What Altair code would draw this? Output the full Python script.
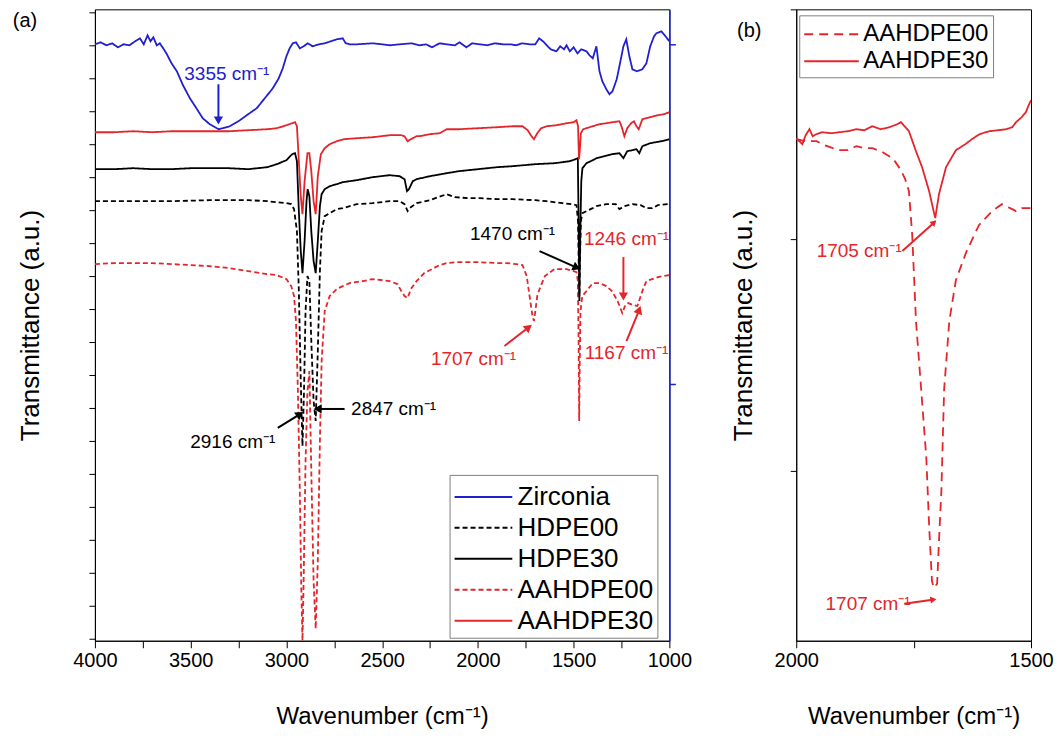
import altair as alt
import pandas as pd

FONT = "Liberation Sans"
BLUE = "#2020d0"
RED = "#e4252b"
BLACK = "#000000"

# ---------------- panel (a) data (wavenumber, transmittance a.u.) ----------------
zr_wn = [4000, 3970, 3940, 3910, 3880, 3850, 3820, 3790, 3765, 3745,
         3725, 3710, 3695, 3677, 3661, 3640, 3624, 3600, 3572, 3540,
         3504, 3470, 3437, 3400, 3363, 3353, 3332, 3296, 3243, 3200,
         3155, 3113, 3071, 3040, 3019, 3000, 2983, 2967, 2950, 2930,
         2910, 2889, 2863, 2830, 2800, 2737, 2706, 2690, 2670, 2633,
         2550, 2500, 2461, 2409, 2346, 2304, 2270, 2240, 2200, 2163,
         2120, 2096, 2060, 2030, 1991, 1950, 1910, 1870, 1830, 1800,
         1770, 1730, 1700, 1680, 1660, 1640, 1620, 1590, 1570, 1550,
         1537, 1520, 1500, 1480, 1460, 1433, 1417, 1400, 1381, 1365,
         1350, 1329, 1313, 1297, 1275, 1261, 1240, 1225, 1209, 1193,
         1170, 1141, 1120, 1100, 1080, 1068, 1042, 1020, 1000]
zr_t = [597, 599, 596, 598, 594, 597, 596, 600, 603, 597,
        606, 600, 604, 596, 598, 592, 587, 578, 570, 556,
        543, 533, 523, 517, 513, 512, 513, 515, 521, 527,
        533, 543, 553, 563, 573, 585, 593, 598, 599, 593,
        595, 598, 595, 597, 598, 602, 603, 598, 597, 597,
        598, 597, 596, 597, 598, 596, 597, 594, 598, 597,
        596, 599, 594, 598, 597, 596, 598, 597, 597, 596,
        598, 597, 597, 603, 600, 596, 592, 590, 595, 592,
        596, 590, 594, 588, 592, 590, 586, 583, 595, 570,
        560, 552, 547, 550, 562, 575, 595, 602, 585, 572,
        570, 572, 578, 595, 605, 608, 610, 605, 600]

rs_wn = [4000, 3900, 3800, 3700, 3600, 3500, 3400, 3300, 3200, 3100,
         3050, 3000, 2970, 2955, 2945, 2935, 2925, 2916, 2905, 2890,
         2880, 2870, 2858, 2847, 2836, 2820, 2800, 2774, 2737, 2700,
         2633, 2550, 2461, 2400, 2383, 2367, 2350, 2320, 2304, 2252,
         2200, 2163, 2100, 2000, 1900, 1820, 1767, 1740, 1720, 1707,
         1690, 1670, 1640, 1590, 1537, 1500, 1485, 1477, 1472, 1468,
         1462, 1450, 1433, 1400, 1365, 1329, 1297, 1261, 1250, 1235,
         1220, 1200, 1185, 1172, 1160, 1141, 1100, 1060, 1030, 1000]
rs_t = [509, 509, 510, 509, 510, 510, 510, 510, 511, 512,
        513, 516, 518, 519, 515, 480, 445, 427, 460, 488,
        488, 470, 440, 427, 465, 487, 493, 497, 500, 502,
        503, 504, 506, 506, 505, 500, 502, 505, 505, 507,
        508, 512, 512, 513, 514, 515, 515, 511, 505, 502,
        508, 513, 515, 516, 518, 519, 521, 515, 482, 490,
        508, 512, 513, 515, 517, 518, 519, 520, 515, 505,
        513, 518, 520, 515, 512, 522, 524, 526, 527, 529]

bs_wn = [4000, 3900, 3800, 3700, 3600, 3500, 3400, 3300, 3200, 3100,
         3050, 3000, 2970, 2955, 2945, 2935, 2925, 2916, 2905, 2895,
         2889, 2880, 2870, 2858, 2847, 2836, 2825, 2816, 2800, 2774,
         2737, 2706, 2633, 2550, 2461, 2409, 2383, 2370, 2360, 2340,
         2320, 2250, 2163, 2100, 2000, 1900, 1820, 1700, 1600, 1520,
         1490, 1478, 1474, 1470, 1466, 1460, 1454, 1433, 1400, 1381,
         1300, 1261, 1240, 1220, 1193, 1172, 1157, 1141, 1100, 1042,
         1000]
bs_t = [472, 472, 473, 472, 472, 473, 473, 473, 472, 474,
        477, 481, 487, 488, 480, 430, 390, 368, 400, 440,
        452, 445, 410, 380, 368, 400, 435, 447, 452, 455,
        457, 459, 461, 464, 466, 465, 462, 450, 452, 460,
        462, 465, 468, 470, 472, 474, 475, 477, 478, 480,
        482, 483, 420, 340, 400, 460, 473, 478, 481, 483,
        487, 488, 483, 490, 491, 492, 488, 495, 498, 500,
        502]

bd_wn = [4000, 3800, 3600, 3400, 3200, 3100, 3000, 2975, 2960, 2945,
         2935, 2925, 2916, 2908, 2900, 2890, 2880, 2870, 2858, 2847,
         2836, 2825, 2816, 2800, 2774, 2737, 2706, 2633, 2550, 2461,
         2409, 2383, 2367, 2350, 2320, 2250, 2163, 2120, 2050, 1991,
         1900, 1819, 1700, 1642, 1560, 1506, 1485, 1477, 1472, 1470,
         1467, 1462, 1454, 1433, 1400, 1381, 1329, 1280, 1261, 1235,
         1193, 1150, 1120, 1089, 1060, 1010, 1000]
bd_t = [440, 440, 440, 441, 441, 440, 438, 437, 432, 410,
        350, 260, 195, 250, 330, 365, 360, 300, 240, 220,
        290, 370, 410, 425, 428, 432, 433, 437, 438, 440,
        440, 437, 430, 434, 438, 441, 447, 444, 443, 443,
        442, 442, 441, 440, 438, 437, 436, 420, 360, 345,
        380, 420, 428, 430, 433, 435, 437, 437, 432, 435,
        437, 436, 433, 433, 436, 437, 437]

rd_wn = [4000, 3900, 3800, 3700, 3600, 3500, 3400, 3300, 3200, 3100,
         3050, 3000, 2975, 2960, 2950, 2940, 2930, 2922, 2916, 2910,
         2900, 2890, 2880, 2870, 2858, 2847, 2836, 2825, 2816, 2800,
         2774, 2737, 2706, 2670, 2600, 2550, 2461, 2420, 2400, 2383,
         2367, 2350, 2320, 2280, 2200, 2163, 2100, 2000, 1900, 1850,
         1800, 1767, 1745, 1730, 1715, 1707, 1700, 1690, 1678, 1650,
         1600, 1537, 1500, 1485, 1478, 1474, 1471, 1468, 1464, 1455,
         1433, 1400, 1365, 1329, 1300, 1270, 1246, 1230, 1215, 1190,
         1167, 1141, 1120, 1060, 1000]
rd_t = [377, 378, 378, 378, 377, 376, 375, 373, 370, 367,
        366, 362, 355, 345, 320, 250, 150, 50, 0, 60,
        180, 250, 270, 170, 60, 12, 80, 200, 280, 330,
        345, 352, 355, 358, 360, 362, 360, 357, 350, 345,
        343, 352, 360, 368, 376, 378, 379, 379, 378, 378,
        377, 376, 365, 345, 325, 320, 330, 345, 352, 365,
        372, 372, 370, 369, 360, 300, 220, 280, 330, 345,
        350, 358, 358, 355, 350, 340, 328, 336, 338, 336,
        335, 350, 360, 364, 366]

# ---------------- panel (b) data ----------------
rsb_wn = [2000, 1987, 1980, 1972, 1965, 1957, 1945, 1925, 1909, 1890,
          1872, 1855, 1838, 1820, 1802, 1785, 1777, 1760, 1745, 1732,
          1717, 1704, 1696, 1681, 1660, 1640, 1626, 1610, 1589, 1570,
          1553, 1540, 1532, 1520, 1511, 1505, 1500]
rsb_t = [503, 497, 506, 512, 505, 507, 509, 508, 509, 510,
         512, 511, 515, 512, 514, 517, 519, 510, 490, 474,
         450, 423, 447, 474, 491, 497, 502, 507, 510, 511,
         512, 514, 519, 524, 529, 536, 541]
rdb_wn = [2000, 1980, 1957, 1940, 1909, 1890, 1872, 1855, 1838, 1820,
          1802, 1790, 1777, 1768, 1760, 1753, 1745, 1734, 1723, 1717,
          1711, 1707, 1700, 1696, 1691, 1685, 1674, 1660, 1638, 1611,
          1583, 1562, 1540, 1532, 1519, 1500]
rdb_t = [502, 500, 500, 496, 491, 491, 495, 493, 493, 490,
         485, 480, 471, 462, 450, 406, 320, 252, 183, 115,
         60, 53, 57, 100, 149, 252, 320, 361, 389, 416,
         430, 437, 432, 430, 433, 433]

series_a = ["Zirconia", "HDPE00", "HDPE30", "AAHDPE00", "AAHDPE30"]
colors_a = [BLUE, BLACK, BLACK, RED, RED]
dash_a = [[1, 0], [5, 3], [1, 0], [5, 3], [1, 0]]
series_b = ["AAHDPE00", "AAHDPE30"]
colors_b = [RED, RED]
dash_b = [[9, 6], [1, 0]]

# annotations: label, text position, arrow tail -> head, head angle
ann_a_label = ["3355 cm⁻¹", "2916 cm⁻¹", "2847 cm⁻¹", "1470 cm⁻¹", "1246 cm⁻¹", "1707 cm⁻¹", "1167 cm⁻¹"]
ann_a_color = ["blue", "black", "black", "black", "red", "red", "red"]
ann_a_tw = [3311, 3280, 2440, 1819, 1224, 2023, 1224]
ann_a_tv = [567, 199, 232, 407, 402, 282, 288]
ann_a_w1 = [3355, 3045, 2696, 1678, 1240, 1861, 1224]
ann_a_v1 = [557, 213, 232, 390, 384, 295, 300]
ann_a_w2 = [3355, 2935, 2830, 1490, 1240, 1740, 1160]
ann_a_v2 = [522, 226, 232, 374, 346, 313, 330]
ann_a_ang = [180, 56, 270, 114, 180, 51, 20]

ann_b_label = ["1705 cm⁻¹", "1707 cm⁻¹"]
ann_b_tw = [1866, 1847]
ann_b_tv = [390, 37]
ann_b_w1 = [1774, 1770]
ann_b_v1 = [390, 37]
ann_b_w2 = [1708, 1710]
ann_b_v2 = [418, 41]
ann_b_ang = [47, 81]

W_A, W_B, H = 575, 235, 632
COLMAP = {"blue": BLUE, "black": BLACK, "red": RED}


def long(name, wn, t):
    return pd.DataFrame({"w": wn, "v": t, "series": name})


base_axis = dict(grid=False, domainColor="black", tickColor="black", domainWidth=1,
                 tickWidth=1, labelFont=FONT, titleFont=FONT, titleFontWeight="normal",
                 titleColor="black", labelColor="black")

ys = alt.Scale(domain=[0, 632], nice=False, zero=False)
xs_a = alt.Scale(domain=[1000, 4000], reverse=True, nice=False, zero=False)
xs_b = alt.Scale(domain=[1500, 2000], reverse=True, nice=False, zero=False)

x_axis_a = alt.Axis(values=list(range(1000, 4001, 250)),
                    labelExpr="datum.value % 500 == 0 ? format(datum.value, 'd') : ''",
                    labelFlush=False, labelOverlap=False, tickSize=7, labelFontSize=20,
                    labelPadding=3, title="Wavenumber (cm⁻¹)", titleFontSize=24,
                    titlePadding=34, **base_axis)
x_axis_b = alt.Axis(values=[1500, 1750, 2000],
                    labelExpr="datum.value % 500 == 0 ? format(datum.value, 'd') : ''",
                    labelFlush=False, labelOverlap=False, tickSize=7, labelFontSize=20,
                    labelPadding=3, title="Wavenumber (cm⁻¹)", titleFontSize=24,
                    titlePadding=34, **base_axis)
y_axis_a = alt.Axis(values=[2 + 33 * k for k in range(20)], labels=False, tickSize=6,
                    title="Transmittance (a.u.)", titleFontSize=26, titlePadding=45,
                    **base_axis)
y_axis_b = alt.Axis(values=[170, 402, 632], labels=False, tickSize=6,
                    title="Transmittance (a.u.)", titleFontSize=26, titlePadding=33,
                    **base_axis)
y_axis_r = alt.Axis(orient="right", values=[257, 597], labels=False, tickSize=6, title=None,
                    grid=False, domainColor=BLUE, tickColor=BLUE, domainWidth=1.5, tickWidth=1.5)


def legend(x, y, fs, size, path, offset):
    return alt.Legend(title=None, orient="none", legendX=x, legendY=y, symbolType=path,
                      symbolSize=size, symbolStrokeWidth=2, labelFontSize=fs, labelFont=FONT,
                      labelColor="black", strokeColor="#808080", fillColor="white",
                      padding=4, rowPadding=0, labelOffset=offset, cornerRadius=0)


# long horizontal line symbols (unit-square path, stretched to the right)
leg_a = legend(355, 466, 26, 1156, "M-1,0H2.4", 28)
leg_b = legend(3, 6, 24, 784, "M-1,0H2.9", 30)


def enc_lines(xscale, xaxis, yaxis, dom, cols, dashes, leg):
    return dict(
        x=alt.X("w:Q", scale=xscale, axis=xaxis),
        y=alt.Y("v:Q", scale=ys, axis=yaxis),
        color=alt.Color("series:N", scale=alt.Scale(domain=dom, range=cols), legend=leg),
        strokeDash=alt.StrokeDash("series:N", scale=alt.Scale(domain=dom, range=dashes), legend=leg),
    )


def annotations(df, xscale, xaxis, yaxis, color, fs, head):
    xe = alt.X("tw:Q", scale=xscale, axis=xaxis)
    ye = alt.Y("tv:Q", scale=ys, axis=yaxis)
    text = alt.Chart(df).mark_text(font=FONT, fontSize=fs, color=color, align="center",
                                   baseline="middle").encode(x=xe, y=ye, text="label:N")
    rule = alt.Chart(df).mark_rule(color=color, strokeWidth=2).encode(
        x=alt.X("w1:Q", scale=xscale, axis=xaxis), x2="w2:Q",
        y=alt.Y("v1:Q", scale=ys, axis=yaxis), y2="v2:Q")
    tri = alt.Chart(df).mark_point(shape="triangle", filled=True, size=head, color=color,
                                   opacity=1).encode(
        x=alt.X("w2:Q", scale=xscale, axis=xaxis),
        y=alt.Y("v2:Q", scale=ys, axis=yaxis),
        angle=alt.Angle("ang:Q", scale=None))
    return [rule, tri, text]


# ---------------- panel (a) ----------------
df_zr = long("Zirconia", zr_wn, zr_t)
df_a = pd.concat([long("HDPE00", bd_wn, bd_t), long("AAHDPE00", rd_wn, rd_t),
                  long("HDPE30", bs_wn, bs_t), long("AAHDPE30", rs_wn, rs_t)])

lines_a = alt.Chart(df_a).mark_line(strokeWidth=1.8, clip=True).encode(
    **enc_lines(xs_a, x_axis_a, y_axis_a, series_a, colors_a, dash_a, leg_a))

ann_a = pd.DataFrame({"label": ann_a_label, "col": ann_a_color, "tw": ann_a_tw, "tv": ann_a_tv,
                      "w1": ann_a_w1, "v1": ann_a_v1, "w2": ann_a_w2, "v2": ann_a_v2,
                      "ang": ann_a_ang})
ann_layers = []
for c in ["blue", "black", "red"]:
    ann_layers += annotations(ann_a[ann_a.col == c], xs_a, x_axis_a, y_axis_a, COLMAP[c], 19, 85)

tag_a = alt.Chart(pd.DataFrame({"t": ["(a)"]})).mark_text(
    font=FONT, fontSize=20, color="black").encode(text="t:N", x=alt.value(-70), y=alt.value(12))

inner_a = alt.layer(lines_a, *ann_layers, tag_a)

zr_line = alt.Chart(df_zr).mark_line(strokeWidth=1.8, clip=True).encode(
    **enc_lines(xs_a, x_axis_a, y_axis_r, series_a, colors_a, dash_a, leg_a))

panel_a = alt.layer(inner_a, zr_line).resolve_scale(y="independent").properties(
    width=W_A, height=H)

# ---------------- panel (b) ----------------
df_b = pd.concat([long("AAHDPE00", rdb_wn, rdb_t), long("AAHDPE30", rsb_wn, rsb_t)])
lines_b = alt.Chart(df_b).mark_line(strokeWidth=1.8, clip=True).encode(
    **enc_lines(xs_b, x_axis_b, y_axis_b, series_b, colors_b, dash_b, leg_b))
ann_b = pd.DataFrame({"label": ann_b_label, "tw": ann_b_tw, "tv": ann_b_tv,
                      "w1": ann_b_w1, "v1": ann_b_v1, "w2": ann_b_w2, "v2": ann_b_v2,
                      "ang": ann_b_ang})
tag_b = alt.Chart(pd.DataFrame({"t": ["(b)"]})).mark_text(
    font=FONT, fontSize=20, color="black").encode(text="t:N", x=alt.value(-47), y=alt.value(22))
panel_b = alt.layer(lines_b, *annotations(ann_b, xs_b, x_axis_b, y_axis_b, RED, 19, 50),
                    tag_b).properties(width=W_B, height=H)

chart = alt.hconcat(panel_a, panel_b, spacing=127, bounds="flush").resolve_scale(
    color="independent", strokeDash="independent", x="independent", y="independent"
).resolve_legend(color="independent", strokeDash="independent").properties(
    padding={"left": 4, "top": 0, "right": 0, "bottom": 0}
).configure_view(stroke="black", strokeWidth=1)

chart.save("out.html", embed_options={"renderer": "svg", "actions": False})
